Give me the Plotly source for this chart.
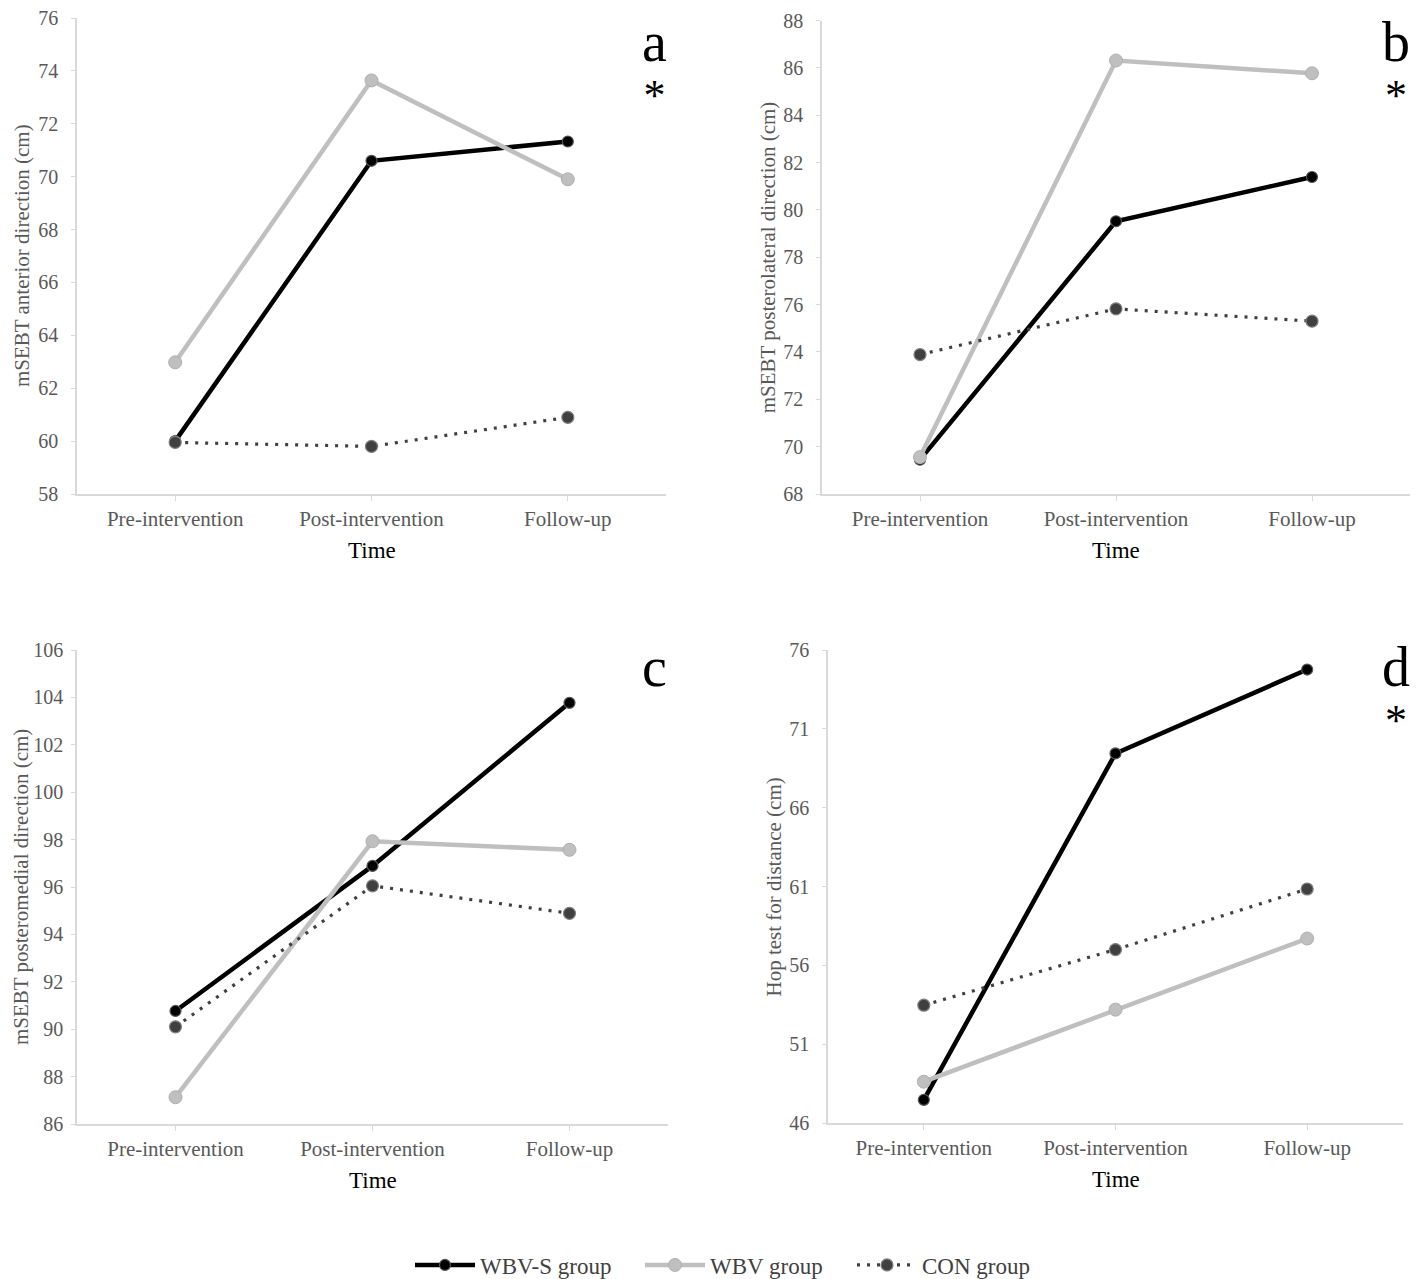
import plotly.graph_objects as go
from plotly.subplots import make_subplots

# page is offset by the browser's default 8px body margin
OFF = 8
PW, PH = 1418, 1279
W, H = PW - OFF, PH - OFF

times = ["Pre-intervention", "Post-intervention", "Follow-up"]
groups = ["WBV-S group", "WBV group", "CON group"]

# Panel a: mSEBT anterior
a_wbvs = [60.0, 70.6, 71.33]
a_wbv = [62.98, 73.64, 69.9]
a_con = [59.95, 59.8, 60.9]
# Panel b: mSEBT posterolateral
b_wbvs = [69.45, 79.52, 81.39]
b_wbv = [69.56, 86.31, 85.77]
b_con = [73.89, 75.82, 75.3]
# Panel c: mSEBT posteromedial
c_wbvs = [90.77, 96.89, 103.77]
c_wbv = [87.13, 97.93, 97.57]
c_con = [90.1, 96.05, 94.89]
# Panel d: Hop test for distance
d_wbvs = [47.47, 69.44, 74.76]
d_wbv = [48.62, 53.19, 57.7]
d_con = [53.47, 57.0, 60.84]

y_titles = ["mSEBT anterior direction (cm)", "mSEBT posterolateral direction (cm)",
            "mSEBT posteromedial direction (cm)", "Hop test for distance (cm)"]
panel_letters = ["a", "b", "c", "d"]
panel_star = [True, True, False, True]
y_ranges = [(58, 76, 2), (68, 88, 2), (86, 106, 2), (46, 76, 5)]

panels = [(a_wbvs, a_wbv, a_con), (b_wbvs, b_wbv, b_con),
          (c_wbvs, c_wbv, c_con), (d_wbvs, d_wbv, d_con)]

# page-pixel boxes: left, right, top, bottom
boxes = [(77, 666, 18, 494), (822, 1410, 20.5, 494),
         (77, 668, 650, 1124), (828, 1403, 650, 1123)]
ytitle_x = [22, 768, 21, 773]
ylabel_gap = [9, 9, 4, 9]


def px(x):
    return (x - OFF) / W


def py(y):
    return 1 - (y - OFF) / H


FONT = "Liberation Serif"
AXIS_COLOR = "#D9D9D9"
TICK_COLOR = "#595959"

styles = [
    dict(line=dict(color="#000000", width=4.5),
         marker=dict(color="#000000", size=11, line=dict(color="#555555", width=1.2))),
    dict(line=dict(color="#BFBFBF", width=4.5),
         marker=dict(color="#BFBFBF", size=13, line=dict(color="#B0B0B0", width=1))),
    dict(line=dict(color="#404040", width=3.2, dash="3px,7px"),
         marker=dict(color="#404040", size=12, line=dict(color="#7F7F7F", width=1.2))),
]
legend_names = ["legend", "legend2", "legend3"]
legend_x = [410, 640, 852]

fig = make_subplots(rows=2, cols=2)

for i, series in enumerate(panels):
    r, c = i // 2 + 1, i % 2 + 1
    for g, (vals, st) in enumerate(zip(series, styles)):
        fig.add_trace(go.Scatter(
            x=times, y=vals, mode="lines+markers", name=groups[g],
            legendgroup=groups[g], showlegend=(i == 0), legend=legend_names[g],
            line=st["line"], marker=st["marker"]), row=r, col=c)

annotations = []
for i in range(4):
    l, rr, t, b = boxes[i]
    xa = "xaxis" if i == 0 else f"xaxis{i+1}"
    ya = "yaxis" if i == 0 else f"yaxis{i+1}"
    y0, y1, dt = y_ranges[i]
    fig.layout[xa].update(
        domain=[px(l), px(rr)], range=[-0.5, 2.5], type="category",
        showline=True, linecolor=AXIS_COLOR, linewidth=1.5, showgrid=False,
        zeroline=False, ticks="outside", ticklen=5, tickcolor=AXIS_COLOR,
        automargin=False, ticklabeloverflow="allow",
        tickfont=dict(family=FONT, size=21, color=TICK_COLOR))
    fig.layout[ya].update(
        domain=[py(b), py(t)], range=[y0, y1], dtick=dt, tick0=y0,
        showline=True, linecolor=AXIS_COLOR, linewidth=1.5, showgrid=False,
        zeroline=False, ticks="outside", ticklen=4, tickcolor=AXIS_COLOR,
        ticklabelstandoff=ylabel_gap[i], automargin=False, ticklabeloverflow="allow",
        tickfont=dict(family=FONT, size=20, color=TICK_COLOR))
    # x-axis title "Time"
    annotations.append(dict(
        text="Time", xref="paper", yref="paper",
        x=px((l + rr) / 2), y=py(b + 56), xanchor="center", yanchor="middle",
        showarrow=False, font=dict(family=FONT, size=23, color="#000000")))
    # y-axis title
    annotations.append(dict(
        text=y_titles[i], xref="paper", yref="paper", textangle=-90,
        x=px(ytitle_x[i]), y=py((t + b) / 2), xanchor="center", yanchor="middle",
        showarrow=False, font=dict(family=FONT, size=21, color=TICK_COLOR)))
    # panel letter (+ significance star) as one text block
    lx = 654 if i % 2 == 0 else 1396
    top_y = 9 if i < 2 else 634
    txt = f"<span style='font-size:56px'>{panel_letters[i]}</span>"
    if panel_star[i]:
        txt += "<br><span style='font-size:44px'>*</span>"
    annotations.append(dict(
        text=txt, xref="paper", yref="paper",
        x=px(lx), y=py(top_y), xanchor="center", yanchor="top",
        showarrow=False, font=dict(family=FONT, size=38, color="#000000")))

leg_common = dict(orientation="h", xanchor="left", y=py(1265), yanchor="middle",
                  font=dict(family=FONT, size=23, color="#404040"),
                  itemwidth=60, bgcolor="rgba(0,0,0,0)")

fig.update_layout(
    width=W, height=H, margin=dict(l=0, r=0, t=0, b=0, autoexpand=False),
    paper_bgcolor="white", plot_bgcolor="white",
    annotations=annotations,
    legend=dict(x=px(legend_x[0]), **leg_common),
    legend2=dict(x=px(legend_x[1]), **leg_common),
    legend3=dict(x=px(legend_x[2]), **leg_common),
)

fig.write_html("out.html")
